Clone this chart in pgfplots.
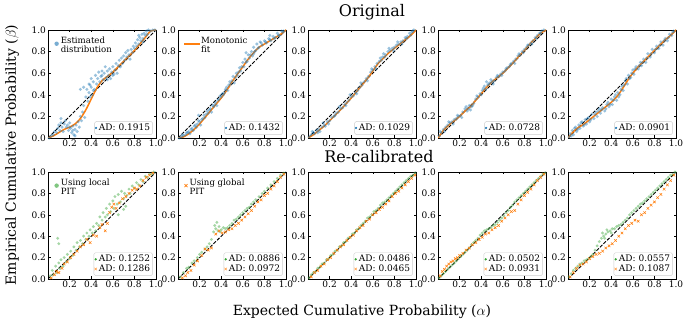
\documentclass[border=0pt]{standalone}
\usepackage{pgfplots}
\pgfplotsset{compat=1.18}
\usepackage{fontspec}
\setmainfont{DejaVu Serif}
\definecolor{cB}{HTML}{1F77B4}
\definecolor{cO}{HTML}{FF7F0E}
\definecolor{cG}{HTML}{2CA02C}
\pgfplotsset{
 base/.style={scale only axis, width=108pt, xmin=0,xmax=1,ymin=0,ymax=1, anchor=south west},
 panel/.style={base, clip=true,
   xtick={0.2,0.4,0.6,0.8,1.0}, ytick={0,0.2,0.4,0.6,0.8,1.0},
   tick align=inside, major tick length=2.5pt,
   tick style={black, line width=0.5pt}, axis line style={line width=0.6pt},
   tick label style={font=\fontsize{9}{10}\selectfont, /pgf/number format/assume math mode=true,
     /pgf/number format/fixed, /pgf/number format/precision=1, /pgf/number format/fixed zerofill},
   xticklabel style={yshift=1.5pt}, yticklabel style={xshift=1.5pt},
   legend style={at={(0.97,0.03)}, anchor=south east, draw=black!20, rounded corners=1.5pt,
     font=\fontsize{9}{10}\selectfont, inner sep=0.5pt, row sep=-2.5pt, fill=white, fill opacity=0.8,
     text opacity=1, cells={anchor=west}}},
 top/.style={height=108pt},
 bot/.style={height=107pt},
 over/.style={base, hide axis, legend style={at={(0.03,0.97)}, anchor=north west, draw=none, fill=none,
     font=\fontsize{8.6}{9}\selectfont, cells={anchor=west}}},
 mk/.style={legend image code/.code={\draw[##1] plot coordinates {(0.1cm,0cm)};}},
 ln/.style={legend image code/.code={\fill[fill=cO] (0cm,-0.8pt) rectangle (0.5cm,0.8pt);}},
 diag/.style={black, line width=0.9pt, dash pattern=on 3.5pt off 1.5pt, forget plot},
 bs/.style={only marks, mark=*, mark size=1.7pt, cB, mark options={fill opacity=0.45, draw opacity=0}, forget plot},
 gs/.style={only marks, mark=*, mark size=1.6pt, cG!85, mark options={fill opacity=0.5, draw opacity=0}, forget plot},
 ox/.style={only marks, mark=x, mark size=1.8pt, cO, mark options={line width=0.55pt}, forget plot},
 fit/.style={cO, line width=1.5pt, smooth, forget plot},
}
\newcommand{\tl}[1]{\begin{tabular}{@{}l@{}}#1\end{tabular}}
\renewcommand{\arraystretch}{0.85}
\begin{document}
\begin{tikzpicture}
\useasboundingbox (0,0) rectangle (690pt,324pt);
% ================= TOP ROW =================
\begin{axis}[panel, top, at={(48pt,186pt)}]
\addplot[bs] coordinates {(0.01,0.00)(0.03,0.02)(0.05,0.03)(0.06,0.06)(0.08,0.05)(0.09,0.09)(0.10,0.12)(0.11,0.07)(0.12,0.14)(0.13,0.10)(0.14,0.06)(0.15,0.13)(0.16,0.16)(0.17,0.10)(0.18,0.12)(0.19,0.07)(0.20,0.14)(0.21,0.09)(0.22,0.05)(0.23,0.11)(0.24,0.03)(0.25,0.08)(0.26,0.12)(0.27,0.06)(0.28,0.15)(0.29,0.10)(0.30,0.20)(0.31,0.16)(0.32,0.24)(0.33,0.30)(0.34,0.19)(0.35,0.38)(0.36,0.45)(0.37,0.34)(0.38,0.50)(0.38,0.42)(0.39,0.38)(0.40,0.55)(0.40,0.47)(0.41,0.40)(0.42,0.52)(0.43,0.45)(0.44,0.58)(0.45,0.50)(0.46,0.55)(0.47,0.61)(0.48,0.52)(0.49,0.57)(0.50,0.62)(0.51,0.54)(0.52,0.60)(0.53,0.66)(0.54,0.56)(0.55,0.62)(0.56,0.58)(0.57,0.64)(0.58,0.55)(0.59,0.61)(0.60,0.66)(0.61,0.59)(0.62,0.63)(0.63,0.69)(0.64,0.60)(0.65,0.67)(0.66,0.72)(0.67,0.66)(0.68,0.74)(0.69,0.69)(0.70,0.76)(0.71,0.72)(0.72,0.79)(0.73,0.75)(0.74,0.81)(0.75,0.77)(0.76,0.73)(0.77,0.82)(0.78,0.79)(0.79,0.85)(0.80,0.83)(0.81,0.88)(0.82,0.85)(0.83,0.91)(0.84,0.87)(0.85,0.93)(0.86,0.90)(0.87,0.96)(0.88,0.92)(0.89,0.97)(0.90,0.95)(0.91,0.99)(0.92,0.96)(0.93,1.00)(0.95,0.99)(0.97,1.00)(0.99,1.00)(0.30,0.45)(0.33,0.47)(0.12,0.18)(0.25,0.02)(0.39,0.49)(0.42,0.44)(0.50,0.58)(0.55,0.54)(0.60,0.58)(0.84,0.95)(0.88,0.89)(0.20,0.10)(0.23,0.07)};
\addplot[diag] coordinates {(0,0)(1,1)};
\addplot[fit] coordinates {(0,0)(0.05,0.02)(0.1,0.05)(0.15,0.08)(0.2,0.10)(0.25,0.13)(0.3,0.18)(0.35,0.26)(0.4,0.36)(0.45,0.46)(0.5,0.53)(0.55,0.57)(0.6,0.61)(0.65,0.66)(0.7,0.71)(0.75,0.76)(0.8,0.81)(0.85,0.87)(0.9,0.93)(0.95,0.99)(1,1)};
\addlegendimage{mk, only marks, mark=*, mark size=0.9pt, cB}
\addlegendentry{AD: 0.1915}
\end{axis}
\begin{axis}[over, top, at={(48pt,186pt)}]
\addlegendimage{mk, only marks, mark=*, mark size=2.2pt, cB, mark options={fill opacity=0.6, draw opacity=0}}
\addlegendentry{\tl{Estimated\\distribution}}
\end{axis}

\begin{axis}[panel, top, at={(178pt,186pt)}]
\addplot[bs] coordinates {(0.01,0.00)(0.03,0.01)(0.05,0.02)(0.07,0.03)(0.08,0.05)(0.10,0.06)(0.11,0.04)(0.12,0.08)(0.14,0.07)(0.15,0.11)(0.17,0.10)(0.18,0.13)(0.20,0.15)(0.21,0.12)(0.23,0.18)(0.25,0.19)(0.26,0.22)(0.28,0.23)(0.30,0.27)(0.31,0.24)(0.33,0.29)(0.35,0.33)(0.36,0.30)(0.38,0.36)(0.40,0.38)(0.41,0.41)(0.43,0.42)(0.45,0.47)(0.46,0.44)(0.48,0.52)(0.50,0.53)(0.51,0.57)(0.52,0.51)(0.54,0.60)(0.55,0.58)(0.57,0.65)(0.58,0.62)(0.60,0.70)(0.61,0.66)(0.62,0.73)(0.64,0.71)(0.65,0.77)(0.66,0.74)(0.68,0.80)(0.69,0.76)(0.70,0.84)(0.72,0.81)(0.73,0.87)(0.75,0.84)(0.76,0.89)(0.78,0.86)(0.80,0.90)(0.82,0.88)(0.84,0.92)(0.86,0.90)(0.88,0.94)(0.90,0.93)(0.92,0.97)(0.94,0.95)(0.96,0.99)(0.98,0.99)(0.19,0.21)(0.63,0.79)(0.70,0.78)(0.85,0.95)(0.04,0.03)(0.09,0.05)(0.13,0.09)(0.16,0.12)(0.19,0.16)(0.22,0.17)(0.24,0.21)(0.27,0.25)(0.29,0.26)(0.32,0.30)(0.34,0.31)(0.37,0.35)(0.39,0.39)(0.42,0.40)(0.44,0.45)(0.47,0.49)(0.49,0.50)(0.53,0.56)(0.56,0.61)(0.59,0.66)(0.63,0.70)(0.67,0.77)(0.71,0.80)(0.74,0.83)(0.77,0.88)(0.81,0.89)(0.85,0.91)(0.89,0.92)(0.93,0.95)(0.97,0.98)};
\addplot[diag] coordinates {(0,0)(1,1)};
\addplot[fit] coordinates {(0,0)(0.05,0.01)(0.1,0.04)(0.15,0.08)(0.2,0.13)(0.25,0.19)(0.3,0.25)(0.35,0.31)(0.4,0.37)(0.45,0.44)(0.5,0.52)(0.55,0.59)(0.6,0.66)(0.65,0.73)(0.7,0.79)(0.75,0.84)(0.8,0.87)(0.85,0.9)(0.9,0.93)(0.95,0.96)(1,1)};
\addlegendimage{mk, only marks, mark=*, mark size=0.9pt, cB}
\addlegendentry{AD: 0.1432}
\end{axis}
\begin{axis}[over, top, at={(178pt,186pt)}]
\addlegendimage{ln, cO}
\addlegendentry{\tl{Monotonic\\fit}}
\end{axis}

\begin{axis}[panel, top, at={(308pt,186pt)}]
\addplot[bs] coordinates {(0.01,0.01)(0.03,0.03)(0.05,0.05)(0.06,0.04)(0.08,0.07)(0.10,0.08)(0.11,0.06)(0.13,0.10)(0.15,0.12)(0.16,0.11)(0.18,0.15)(0.20,0.16)(0.22,0.19)(0.24,0.20)(0.26,0.23)(0.28,0.24)(0.30,0.27)(0.32,0.28)(0.34,0.31)(0.36,0.33)(0.38,0.35)(0.40,0.38)(0.42,0.39)(0.44,0.42)(0.46,0.44)(0.48,0.47)(0.50,0.49)(0.52,0.52)(0.54,0.55)(0.56,0.57)(0.58,0.61)(0.60,0.63)(0.62,0.66)(0.64,0.69)(0.66,0.71)(0.67,0.74)(0.69,0.75)(0.70,0.78)(0.72,0.77)(0.74,0.80)(0.76,0.81)(0.78,0.83)(0.80,0.84)(0.82,0.86)(0.84,0.87)(0.86,0.89)(0.88,0.90)(0.90,0.93)(0.92,0.94)(0.94,0.97)(0.96,0.98)(0.98,1.00)(0.04,0.06)(0.09,0.05)(0.14,0.14)(0.19,0.13)(0.25,0.21)(0.29,0.29)(0.35,0.30)(0.39,0.40)(0.45,0.41)(0.49,0.51)(0.55,0.53)(0.59,0.64)(0.63,0.64)(0.68,0.72)(0.71,0.75)(0.75,0.83)(0.79,0.81)(0.83,0.89)(0.87,0.87)(0.91,0.92)(0.95,0.95)(0.97,0.99)};
\addplot[diag] coordinates {(0,0)(1,1)};
\addplot[fit] coordinates {(0,0)(0.05,0.03)(0.1,0.07)(0.15,0.11)(0.2,0.16)(0.3,0.26)(0.4,0.37)(0.5,0.49)(0.55,0.55)(0.6,0.62)(0.65,0.69)(0.7,0.74)(0.75,0.79)(0.8,0.83)(0.85,0.87)(0.9,0.91)(0.95,0.95)(1,1)};
\addlegendimage{mk, only marks, mark=*, mark size=0.9pt, cB}
\addlegendentry{AD: 0.1029}
\end{axis}

\begin{axis}[panel, top, at={(438pt,186pt)}]
\addplot[bs] coordinates {(0.01,0.02)(0.03,0.05)(0.05,0.08)(0.07,0.10)(0.09,0.12)(0.11,0.14)(0.13,0.15)(0.15,0.17)(0.17,0.18)(0.19,0.20)(0.21,0.21)(0.23,0.24)(0.25,0.27)(0.27,0.25)(0.29,0.30)(0.30,0.26)(0.31,0.29)(0.33,0.32)(0.35,0.36)(0.37,0.38)(0.39,0.41)(0.41,0.44)(0.43,0.48)(0.44,0.45)(0.45,0.52)(0.46,0.49)(0.48,0.51)(0.50,0.52)(0.52,0.53)(0.54,0.56)(0.56,0.57)(0.58,0.59)(0.60,0.61)(0.62,0.62)(0.64,0.65)(0.66,0.66)(0.68,0.69)(0.70,0.71)(0.72,0.73)(0.74,0.76)(0.76,0.77)(0.78,0.80)(0.80,0.82)(0.82,0.84)(0.84,0.86)(0.86,0.88)(0.88,0.90)(0.90,0.93)(0.92,0.95)(0.94,0.97)(0.96,0.99)(0.98,1.00)(0.02,0.06)(0.06,0.06)(0.10,0.15)(0.14,0.13)(0.18,0.21)(0.22,0.19)(0.26,0.29)(0.28,0.27)(0.32,0.30)(0.36,0.39)(0.40,0.40)(0.42,0.46)(0.47,0.50)(0.49,0.54)(0.51,0.50)(0.55,0.58)(0.59,0.58)(0.63,0.64)(0.67,0.68)(0.71,0.69)(0.75,0.78)(0.79,0.79)(0.83,0.86)(0.87,0.87)(0.91,0.92)(0.95,0.97)};
\addplot[diag] coordinates {(0,0)(1,1)};
\addplot[fit] coordinates {(0,0)(0.05,0.07)(0.1,0.12)(0.15,0.16)(0.2,0.2)(0.25,0.25)(0.3,0.29)(0.35,0.35)(0.4,0.41)(0.45,0.47)(0.5,0.52)(0.55,0.56)(0.6,0.6)(0.65,0.65)(0.7,0.7)(0.75,0.76)(0.8,0.81)(0.85,0.87)(0.9,0.92)(0.95,0.97)(1,1)};
\addlegendimage{mk, only marks, mark=*, mark size=0.9pt, cB}
\addlegendentry{AD: 0.0728}
\end{axis}

\begin{axis}[panel, top, at={(568pt,186pt)}]
\addplot[bs] coordinates {(0.01,0.01)(0.02,0.04)(0.04,0.07)(0.05,0.03)(0.07,0.10)(0.08,0.06)(0.10,0.12)(0.11,0.09)(0.13,0.15)(0.14,0.11)(0.16,0.17)(0.17,0.13)(0.19,0.19)(0.20,0.15)(0.22,0.22)(0.24,0.18)(0.26,0.24)(0.27,0.20)(0.29,0.27)(0.30,0.23)(0.32,0.28)(0.34,0.25)(0.36,0.31)(0.38,0.29)(0.40,0.36)(0.41,0.31)(0.43,0.38)(0.45,0.35)(0.46,0.42)(0.48,0.40)(0.50,0.48)(0.51,0.44)(0.53,0.53)(0.55,0.50)(0.56,0.58)(0.58,0.56)(0.60,0.63)(0.61,0.59)(0.63,0.66)(0.65,0.64)(0.67,0.70)(0.68,0.67)(0.70,0.73)(0.72,0.70)(0.74,0.78)(0.76,0.75)(0.78,0.82)(0.80,0.79)(0.82,0.85)(0.84,0.83)(0.86,0.89)(0.88,0.86)(0.90,0.92)(0.92,0.90)(0.94,0.96)(0.96,0.95)(0.98,0.99)(0.03,0.02)(0.06,0.09)(0.09,0.08)(0.12,0.14)(0.15,0.12)(0.18,0.18)(0.21,0.17)(0.25,0.22)(0.28,0.25)(0.31,0.26)(0.35,0.27)(0.37,0.33)(0.39,0.31)(0.42,0.35)(0.44,0.40)(0.47,0.38)(0.49,0.45)(0.52,0.49)(0.54,0.55)(0.57,0.55)(0.59,0.60)(0.62,0.64)(0.66,0.67)(0.69,0.70)(0.73,0.74)(0.77,0.78)(0.81,0.82)(0.85,0.86)(0.89,0.90)(0.93,0.93)(0.97,0.98)};
\addplot[diag] coordinates {(0,0)(1,1)};
\addplot[fit] coordinates {(0,0)(0.05,0.06)(0.1,0.1)(0.15,0.13)(0.2,0.17)(0.25,0.21)(0.3,0.25)(0.35,0.29)(0.4,0.33)(0.45,0.38)(0.5,0.45)(0.55,0.53)(0.6,0.6)(0.65,0.66)(0.7,0.71)(0.75,0.76)(0.8,0.81)(0.85,0.86)(0.9,0.91)(0.95,0.95)(1,1)};
\addlegendimage{mk, only marks, mark=*, mark size=0.9pt, cB}
\addlegendentry{AD: 0.0901}
\end{axis}

% ================= BOTTOM ROW =================
\begin{axis}[panel, bot, at={(48pt,45pt)}]
\addplot[gs] coordinates {(0.02,0.03)(0.04,0.08)(0.05,0.04)(0.07,0.12)(0.08,0.06)(0.10,0.15)(0.11,0.10)(0.12,0.18)(0.14,0.12)(0.15,0.20)(0.17,0.16)(0.18,0.23)(0.20,0.19)(0.21,0.26)(0.23,0.22)(0.24,0.30)(0.26,0.27)(0.27,0.34)(0.29,0.30)(0.30,0.36)(0.32,0.33)(0.33,0.40)(0.35,0.37)(0.36,0.43)(0.38,0.40)(0.39,0.46)(0.41,0.43)(0.42,0.49)(0.44,0.45)(0.45,0.52)(0.47,0.50)(0.48,0.58)(0.50,0.55)(0.51,0.62)(0.53,0.58)(0.54,0.66)(0.55,0.60)(0.57,0.70)(0.58,0.63)(0.60,0.73)(0.61,0.66)(0.62,0.77)(0.64,0.70)(0.65,0.79)(0.67,0.72)(0.68,0.82)(0.70,0.75)(0.71,0.80)(0.73,0.78)(0.75,0.84)(0.76,0.80)(0.78,0.87)(0.80,0.85)(0.82,0.90)(0.84,0.88)(0.86,0.93)(0.88,0.91)(0.90,0.96)(0.92,0.95)(0.94,0.98)(0.96,0.98)(0.98,1.00)(0.09,0.38)(0.10,0.33)(0.65,0.60)(0.70,0.65)(0.72,0.68)};
\addplot[diag] coordinates {(0,0)(1,1)};
\addplot[ox] coordinates {(0.03,0.01)(0.06,0.04)(0.08,0.07)(0.10,0.06)(0.13,0.10)(0.15,0.14)(0.18,0.16)(0.21,0.20)(0.24,0.23)(0.27,0.26)(0.30,0.30)(0.33,0.32)(0.36,0.37)(0.39,0.34)(0.42,0.41)(0.45,0.40)(0.48,0.48)(0.50,0.51)(0.53,0.45)(0.55,0.52)(0.57,0.62)(0.59,0.67)(0.61,0.70)(0.63,0.66)(0.66,0.71)(0.69,0.75)(0.72,0.77)(0.75,0.80)(0.78,0.83)(0.80,0.85)(0.82,0.84)(0.85,0.87)(0.88,0.92)(0.91,0.95)(0.94,0.97)(0.97,0.99)};
\addlegendimage{mk, only marks, mark=*, mark size=0.9pt, cG}
\addlegendentry{AD: 0.1252}
\addlegendimage{mk, only marks, mark=x, mark size=1.8pt, cO}
\addlegendentry{AD: 0.1286}
\end{axis}
\begin{axis}[over, bot, at={(48pt,45pt)}]
\addlegendimage{mk, only marks, mark=*, mark size=2.2pt, cG, mark options={fill opacity=0.6, draw opacity=0}}
\addlegendentry{\tl{Using local\\PIT}}
\end{axis}

\begin{axis}[panel, bot, at={(178pt,45pt)}]
\addplot[gs] coordinates {(0.02,0.02)(0.05,0.06)(0.08,0.10)(0.10,0.11)(0.13,0.15)(0.15,0.17)(0.18,0.20)(0.20,0.23)(0.22,0.25)(0.25,0.28)(0.27,0.30)(0.29,0.33)(0.31,0.37)(0.33,0.44)(0.34,0.50)(0.35,0.47)(0.36,0.53)(0.37,0.45)(0.38,0.49)(0.39,0.44)(0.40,0.46)(0.42,0.48)(0.44,0.47)(0.46,0.48)(0.48,0.50)(0.50,0.52)(0.52,0.55)(0.54,0.56)(0.56,0.58)(0.58,0.60)(0.60,0.62)(0.62,0.64)(0.64,0.66)(0.66,0.67)(0.68,0.70)(0.70,0.72)(0.72,0.74)(0.75,0.77)(0.78,0.80)(0.80,0.82)(0.83,0.85)(0.86,0.88)(0.89,0.91)(0.92,0.94)(0.95,0.97)(0.98,0.99)};
\addplot[diag] coordinates {(0,0)(1,1)};
\addplot[ox] coordinates {(0.04,0.01)(0.07,0.03)(0.09,0.06)(0.12,0.08)(0.15,0.13)(0.18,0.17)(0.22,0.22)(0.25,0.28)(0.28,0.27)(0.31,0.29)(0.35,0.42)(0.38,0.45)(0.41,0.43)(0.44,0.44)(0.47,0.46)(0.50,0.47)(0.53,0.50)(0.56,0.52)(0.59,0.55)(0.62,0.58)(0.65,0.61)(0.68,0.64)(0.71,0.68)(0.74,0.72)(0.77,0.74)(0.80,0.78)(0.83,0.80)(0.86,0.84)(0.89,0.87)(0.92,0.91)(0.95,0.95)(0.98,0.98)};
\addlegendimage{mk, only marks, mark=*, mark size=0.9pt, cG}
\addlegendentry{AD: 0.0886}
\addlegendimage{mk, only marks, mark=x, mark size=1.8pt, cO}
\addlegendentry{AD: 0.0972}
\end{axis}
\begin{axis}[over, bot, at={(178pt,45pt)}]
\addlegendimage{mk, only marks, mark=x, mark size=2.2pt, cO, mark options={line width=0.6pt}}
\addlegendentry{\tl{Using global\\PIT}}
\end{axis}

\begin{axis}[panel, bot, at={(308pt,45pt)}]
\addplot[gs] coordinates {(0.01,0.01)(0.03,0.04)(0.05,0.06)(0.07,0.07)(0.09,0.10)(0.11,0.11)(0.13,0.14)(0.15,0.15)(0.17,0.18)(0.19,0.19)(0.21,0.22)(0.23,0.23)(0.25,0.26)(0.27,0.27)(0.29,0.30)(0.31,0.31)(0.33,0.34)(0.35,0.35)(0.37,0.38)(0.39,0.39)(0.41,0.42)(0.43,0.43)(0.45,0.46)(0.47,0.47)(0.49,0.50)(0.51,0.52)(0.53,0.54)(0.55,0.57)(0.57,0.58)(0.59,0.60)(0.61,0.63)(0.63,0.64)(0.65,0.66)(0.67,0.69)(0.69,0.71)(0.71,0.72)(0.73,0.74)(0.75,0.76)(0.77,0.78)(0.79,0.80)(0.81,0.82)(0.83,0.84)(0.85,0.86)(0.87,0.88)(0.89,0.90)(0.91,0.92)(0.93,0.94)(0.95,0.96)(0.97,0.97)(0.99,0.99)};
\addplot[diag] coordinates {(0,0)(1,1)};
\addplot[ox] coordinates {(0.03,0.02)(0.06,0.06)(0.09,0.08)(0.12,0.12)(0.15,0.14)(0.18,0.18)(0.21,0.20)(0.24,0.24)(0.27,0.27)(0.30,0.30)(0.33,0.32)(0.36,0.36)(0.39,0.39)(0.42,0.41)(0.45,0.45)(0.48,0.48)(0.51,0.50)(0.54,0.54)(0.57,0.56)(0.60,0.60)(0.63,0.62)(0.66,0.65)(0.69,0.67)(0.72,0.70)(0.75,0.73)(0.78,0.77)(0.81,0.80)(0.84,0.82)(0.87,0.85)(0.90,0.88)(0.93,0.91)(0.96,0.94)(0.99,0.97)};
\addlegendimage{mk, only marks, mark=*, mark size=0.9pt, cG}
\addlegendentry{AD: 0.0486}
\addlegendimage{mk, only marks, mark=x, mark size=1.8pt, cO}
\addlegendentry{AD: 0.0465}
\end{axis}

\begin{axis}[panel, bot, at={(438pt,45pt)}]
\addplot[gs] coordinates {(0.01,0.01)(0.03,0.03)(0.05,0.05)(0.07,0.07)(0.09,0.09)(0.11,0.11)(0.13,0.13)(0.15,0.15)(0.17,0.17)(0.19,0.19)(0.21,0.21)(0.23,0.23)(0.25,0.25)(0.27,0.27)(0.29,0.29)(0.31,0.32)(0.33,0.34)(0.35,0.36)(0.37,0.38)(0.39,0.41)(0.41,0.43)(0.43,0.45)(0.45,0.46)(0.47,0.47)(0.49,0.48)(0.51,0.50)(0.53,0.51)(0.55,0.53)(0.57,0.55)(0.59,0.57)(0.61,0.59)(0.63,0.62)(0.65,0.64)(0.67,0.67)(0.69,0.69)(0.71,0.72)(0.73,0.74)(0.75,0.76)(0.77,0.78)(0.79,0.80)(0.81,0.82)(0.83,0.84)(0.85,0.86)(0.87,0.88)(0.89,0.90)(0.91,0.92)(0.93,0.94)(0.95,0.96)(0.97,0.98)(0.99,0.99)};
\addplot[diag] coordinates {(0,0)(1,1)};
\addplot[ox] coordinates {(0.02,0.03)(0.04,0.07)(0.06,0.09)(0.08,0.12)(0.10,0.14)(0.12,0.16)(0.14,0.17)(0.16,0.19)(0.18,0.20)(0.20,0.22)(0.23,0.24)(0.26,0.27)(0.29,0.29)(0.32,0.32)(0.35,0.34)(0.38,0.37)(0.41,0.39)(0.44,0.42)(0.47,0.43)(0.50,0.46)(0.53,0.48)(0.56,0.50)(0.59,0.54)(0.62,0.57)(0.65,0.60)(0.68,0.63)(0.71,0.64)(0.74,0.70)(0.77,0.74)(0.80,0.78)(0.83,0.81)(0.86,0.84)(0.89,0.88)(0.92,0.92)(0.95,0.95)(0.98,0.98)};
\addlegendimage{mk, only marks, mark=*, mark size=0.9pt, cG}
\addlegendentry{AD: 0.0502}
\addlegendimage{mk, only marks, mark=x, mark size=1.8pt, cO}
\addlegendentry{AD: 0.0931}
\end{axis}

\begin{axis}[panel, bot, at={(568pt,45pt)}]
\addplot[gs] coordinates {(0.01,0.02)(0.03,0.05)(0.05,0.08)(0.07,0.10)(0.09,0.12)(0.11,0.14)(0.13,0.15)(0.15,0.17)(0.17,0.18)(0.19,0.19)(0.21,0.21)(0.23,0.23)(0.25,0.27)(0.27,0.31)(0.29,0.35)(0.31,0.38)(0.33,0.40)(0.35,0.42)(0.37,0.44)(0.39,0.45)(0.41,0.47)(0.43,0.47)(0.45,0.49)(0.47,0.50)(0.49,0.51)(0.51,0.53)(0.53,0.55)(0.55,0.57)(0.57,0.60)(0.59,0.62)(0.61,0.64)(0.63,0.66)(0.65,0.68)(0.67,0.70)(0.69,0.71)(0.71,0.73)(0.73,0.75)(0.75,0.77)(0.77,0.79)(0.79,0.81)(0.81,0.83)(0.83,0.85)(0.85,0.87)(0.87,0.89)(0.89,0.91)(0.91,0.93)(0.93,0.95)(0.95,0.97)(0.97,0.98)(0.99,1.00)(0.32,0.43)(0.36,0.46)(0.40,0.43)(0.34,0.38)};
\addplot[diag] coordinates {(0,0)(1,1)};
\addplot[ox] coordinates {(0.02,0.02)(0.05,0.06)(0.08,0.10)(0.11,0.13)(0.14,0.14)(0.17,0.16)(0.20,0.19)(0.23,0.21)(0.26,0.23)(0.29,0.24)(0.32,0.26)(0.35,0.29)(0.38,0.31)(0.41,0.33)(0.44,0.36)(0.47,0.40)(0.50,0.43)(0.53,0.47)(0.56,0.50)(0.59,0.52)(0.62,0.55)(0.65,0.54)(0.68,0.60)(0.71,0.62)(0.74,0.66)(0.77,0.69)(0.80,0.72)(0.83,0.76)(0.86,0.79)(0.89,0.84)(0.92,0.88)(0.95,0.92)(0.98,0.97)};
\addlegendimage{mk, only marks, mark=*, mark size=0.9pt, cG}
\addlegendentry{AD: 0.0557}
\addlegendimage{mk, only marks, mark=x, mark size=1.8pt, cO}
\addlegendentry{AD: 0.1087}
\end{axis}

% ================= TITLES & LABELS =================
\node[anchor=base, font=\fontsize{16}{18}\selectfont] at (372pt,307pt) {Original};
\node[anchor=base, font=\fontsize{16}{18}\selectfont] at (379pt,161pt) {Re-calibrated};
\node[rotate=90, font=\fontsize{14}{16}\selectfont] at (12pt,169pt) {Empirical Cumulative Probability ($\beta$)};
\node[anchor=base, font=\fontsize{14}{16}\selectfont] at (362pt,9pt) {Expected Cumulative Probability ($\alpha$)};
\end{tikzpicture}
\end{document}
